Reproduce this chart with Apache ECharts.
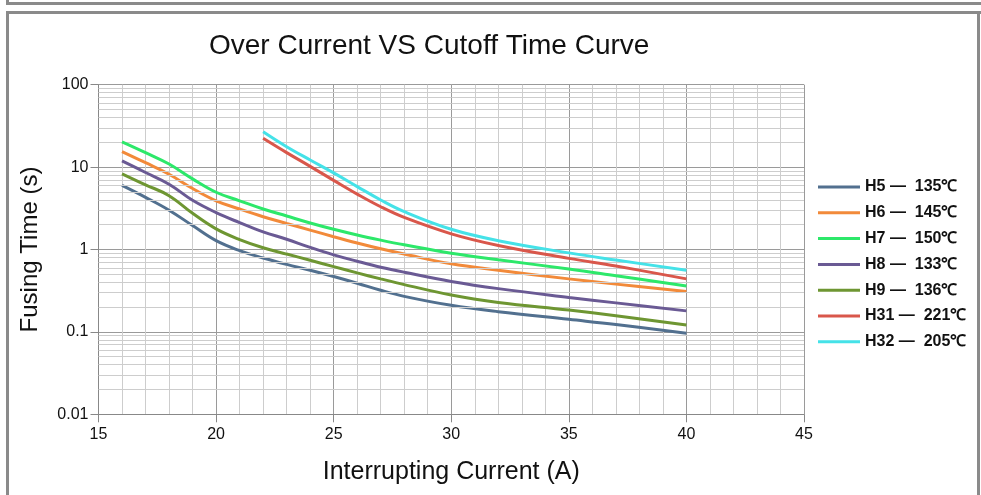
<!DOCTYPE html>
<html>
<head>
<meta charset="utf-8">
<script src="https://cdn.jsdelivr.net/npm/echarts@6/dist/echarts.min.js"></script>
<style>
html,body{margin:0;padding:0;background:#fff;}
#chart{width:981px;height:495px;}
</style>
</head>
<body>
<div id="chart"></div>
<script>
const currentLow = [16,17,18,19,20,21,22,23,24,25,26,27,28,30,32,35,37,40];
const currentHigh = [22,23,24,25,26,27,28,30,32,35,37,40];
const H5 = [6.0,4.3,3.0,1.95,1.28,0.97,0.79,0.66,0.56,0.47,0.39,0.32,0.27,0.21,0.176,0.142,0.123,0.096];
const H6 = [15.4,11.3,8.2,5.5,3.9,3.1,2.5,2.07,1.72,1.43,1.2,1.02,0.88,0.67,0.56,0.44,0.38,0.31];
const H7 = [20.3,15.0,10.9,7.2,4.95,3.9,3.1,2.55,2.1,1.76,1.5,1.3,1.14,0.9,0.75,0.58,0.48,0.36];
const H8 = [11.9,8.6,6.2,3.95,2.8,2.12,1.64,1.33,1.06,0.86,0.72,0.61,0.53,0.41,0.335,0.262,0.225,0.18];
const H9 = [8.25,6.1,4.5,2.75,1.78,1.32,1.05,0.88,0.74,0.62,0.52,0.44,0.375,0.28,0.228,0.184,0.157,0.121];
const H31 = [22.4,15.0,10.2,6.9,4.7,3.3,2.45,1.55,1.12,0.78,0.63,0.44];
const H32 = [26.9,17.7,12.2,8.5,5.8,3.99,2.88,1.76,1.28,0.91,0.745,0.56];
const seriesNames = ['H5 —  135℃','H6 —  145℃','H7 —  150℃','H8 —  133℃','H9 —  136℃','H31 —  221℃','H32 —  205℃'];
const seriesColors = ['#52708f','#f28a3a','#2de86a','#6a5a94','#6e9632','#d9574b','#45e2e8'];
const yTicks = [0.01,0.1,1,10,100];
const yMinorGrid = [0.02,0.03,0.04,0.05,0.06,0.07,0.08,0.09,0.2,0.3,0.4,0.5,0.6,0.7,0.8,0.9,2,3,4,5,6,7,8,9,20,30,40,50,60,70,80,90];

const FONT = "'Liberation Sans', Arial, sans-serif";
function pairs(xs, ys){ return xs.map((x,i)=>[x, ys[i]]); }
const allData = [
  pairs(currentLow,H5), pairs(currentLow,H6), pairs(currentLow,H7),
  pairs(currentLow,H8), pairs(currentLow,H9),
  pairs(currentHigh,H31), pairs(currentHigh,H32)
];

const series = allData.map((d,i)=>({
  name: seriesNames[i],
  type: 'line',
  data: d,
  smooth: 0.4,
  symbol: 'none',
  showSymbol: false,
  lineStyle: {color: seriesColors[i], width: 3},
  itemStyle: {color: seriesColors[i]},
  z: 3 + i
}));
series.unshift({
  name: '__grid',
  type: 'line',
  data: [],
  symbol: 'none',
  silent: true,
  markLine: {
    silent: true,
    symbol: 'none',
    label: {show: false},
    animation: false,
    lineStyle: {color: '#cdcdcd', width: 1, type: 'solid'},
    data: yMinorGrid.map(v=>({yAxis: v}))
  },
  z: 1
});

const chart = echarts.init(document.getElementById('chart'));
chart.setOption({
  animation: false,
  backgroundColor: '#fff',
  title: {
    text: 'Over Current VS Cutoff Time Curve',
    left: 204, top: 27,
    textStyle: {fontFamily: FONT, fontSize: 28, fontWeight: 'normal', color: '#111'}
  },
  legend: {
    orient: 'vertical',
    left: 813, top: 174,
    icon: 'rect',
    itemWidth: 42, itemHeight: 3, itemGap: 9.8,
    data: seriesNames,
    textStyle: {fontFamily: FONT, fontSize: 16, lineHeight: 16, fontWeight: 'bold', color: '#111'}
  },
  grid: {left: 98.5, right: 177, top: 84.7, bottom: 80.7, containLabel: false},
  xAxis: {
    type: 'value', min: 15, max: 45, interval: 5,
    name: 'Interrupting Current (A)', nameLocation: 'middle', nameGap: 45,
    nameTextStyle: {fontFamily: FONT, fontSize: 25, color: '#111'},
    axisLine: {show: true, lineStyle: {color: '#888', width: 1}},
    axisTick: {show: true, length: 8, inside: false, lineStyle: {color: '#888'}},
    axisLabel: {fontFamily: FONT, fontSize: 16, color: '#111', margin: 12},
    splitLine: {show: true, lineStyle: {color: '#9a9a9a', width: 1}},
    minorTick: {show: false, splitNumber: 5},
    minorSplitLine: {show: true, lineStyle: {color: '#cdcdcd', width: 1}}
  },
  yAxis: {
    type: 'log', logBase: 10, min: yTicks[0], max: yTicks[yTicks.length-1],
    name: 'Fusing Time (s)', nameLocation: 'middle', nameGap: 56,
    nameTextStyle: {fontFamily: FONT, fontSize: 24, color: '#111'},
    axisLine: {show: true, lineStyle: {color: '#888', width: 1}},
    axisTick: {show: true, length: 8, inside: false, lineStyle: {color: '#888'}},
    axisLabel: {fontFamily: FONT, fontSize: 16, color: '#111', margin: 10,
      formatter: v => String(yTicks.find(t => Math.abs(Math.log10(t) - Math.log10(v)) < 1e-6) ?? v)},
    splitLine: {show: true, lineStyle: {color: '#9a9a9a', width: 1}}
  },
  graphic: [
    {type: 'rect', shape: {x: 6, y: 2, width: 975, height: 3}, style: {fill: '#8a8a8a'}, silent: true},
    {type: 'rect', shape: {x: 6, y: 0, width: 3, height: 5}, style: {fill: '#8a8a8a'}, silent: true},
    {type: 'rect', shape: {x: 6, y: 11, width: 975, height: 3}, style: {fill: '#8a8a8a'}, silent: true},
    {type: 'rect', shape: {x: 6, y: 11, width: 3, height: 484}, style: {fill: '#8a8a8a'}, silent: true},
    {type: 'rect', shape: {x: 977, y: 11, width: 3, height: 484}, style: {fill: '#8a8a8a'}, silent: true}
  ],
  series: series
});
</script>
</body>
</html>
